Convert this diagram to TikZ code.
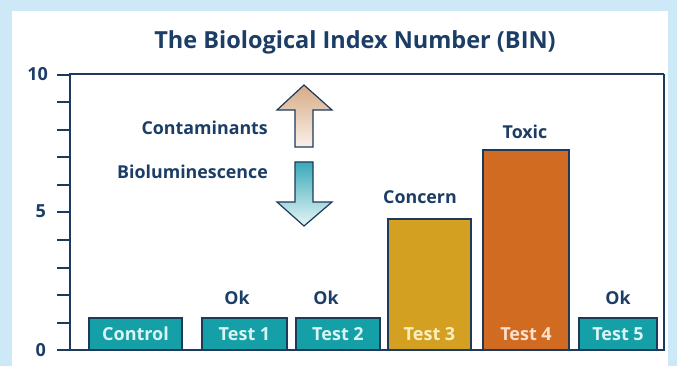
\documentclass[tikz,border=0pt]{standalone}
\usepackage{fontspec}
\setmainfont{Open Sans}
\usetikzlibrary{shadings}
\definecolor{bgblue}{HTML}{CDE8F7}
\definecolor{navy}{HTML}{1D3A5C}
\definecolor{txtblue}{HTML}{1B3D66}
\definecolor{tealbar}{HTML}{159FA6}
\definecolor{goldbar}{HTML}{D4A021}
\definecolor{orangebar}{HTML}{D26B22}
\definecolor{tealtxt}{HTML}{D8F4F4}
\definecolor{goldtxt}{HTML}{FBEFC0}
\definecolor{orangetxt}{HTML}{FBE0CC}
\definecolor{tanA}{HTML}{D6AB86}
\definecolor{tanB}{HTML}{FAF0E8}
\definecolor{cyA}{HTML}{3AAAB8}
\definecolor{cyB}{HTML}{E6F5F7}
\begin{document}
\begin{tikzpicture}[x=1pt,y=-1pt,
  barbox/.style={draw=navy,line width=2pt},
  bartext/.style={font=\bfseries\fontsize{18}{20}\selectfont,inner sep=0pt},
  lbl/.style={font=\bfseries\fontsize{17.8}{20}\selectfont,text=txtblue,inner sep=0pt},
  axis/.style={draw=navy,line width=2pt},
  tickline/.style={draw=navy,line width=2pt},
  ticklbl/.style={font=\bfseries\fontsize{18}{20}\selectfont,text=txtblue,inner sep=0pt,anchor=east},
  arrowshape/.style={draw=navy,line width=1.2pt,line join=miter}]
\useasboundingbox (0,0) rectangle (677,366);
\fill[bgblue] (0,0) rectangle (677,366);
\fill[white] (12,11) rectangle (668,366);
% title
\node[font=\bfseries\fontsize{23.5}{28}\selectfont,text=txtblue] (title) at (355,42) {The Biological Index Number (BIN)};
% frame
\coordinate (tl) at (70,74);
\coordinate (tr) at (664,74);
\coordinate (br) at (664,350);
\coordinate (bl) at (70,350);
\draw[axis] (tr) -- (tl) -- (bl) -- (br) -- (tr);
% ticks
\foreach \i in {0,...,10}{
  \draw[tickline] (57,{350-27.5*\i}) -- (70,{350-27.5*\i});
}
\node[ticklbl] (t10) at (48,74) {10};
\node[ticklbl] (t5) at (46,211) {5};
\node[ticklbl] (t0) at (46,350) {0};
% bars
\draw[barbox,fill=tealbar] (89,318) rectangle (182,350);
\draw[barbox,fill=tealbar] (202,318) rectangle (287,350);
\draw[barbox,fill=tealbar] (296,318) rectangle (380,350);
\draw[barbox,fill=goldbar] (388,219) rectangle (471,350);
\draw[barbox,fill=orangebar] (483,150) rectangle (569,350);
\draw[barbox,fill=tealbar] (579,318) rectangle (657,350);
\node[bartext,text=tealtxt] (control) at (135.5,334) {Control};
\node[bartext,text=tealtxt] (test1) at (244.5,334) {Test 1};
\node[bartext,text=tealtxt] (test2) at (338,334) {Test 2};
\node[bartext,text=goldtxt] (test3) at (429.5,334) {Test 3};
\node[bartext,text=orangetxt] (test4) at (526,334) {Test 4};
\node[bartext,text=tealtxt] (test5) at (618,334) {Test 5};
% labels above
\node[lbl] (ok1) at (237,298) {Ok};
\node[lbl] (ok2) at (326,298) {Ok};
\node[lbl] (concern) at (420,197) {Concern};
\node[lbl] (toxic) at (525,132) {Toxic};
\node[lbl] (ok5) at (618,298) {Ok};
% legend
\node[lbl,anchor=east] (contam) at (268,128) {Contaminants};
\node[lbl,anchor=east] (biolum) at (268,172) {Bioluminescence};
\shade[top color=tanA,bottom color=tanB] (304,85) -- (332,110) -- (313,110) -- (313,147) -- (295,147) -- (295,110) -- (277,110) -- cycle;
\draw[arrowshape] (304,85) -- (332,110) -- (313,110) -- (313,147) -- (295,147) -- (295,110) -- (277,110) -- cycle;
\shade[top color=cyA,bottom color=cyB] (295,162) -- (313,162) -- (313,202) -- (332,202) -- (304,226) -- (277,202) -- (295,202) -- cycle;
\draw[arrowshape] (295,162) -- (313,162) -- (313,202) -- (332,202) -- (304,226) -- (277,202) -- (295,202) -- cycle;
\end{tikzpicture}
\end{document}
